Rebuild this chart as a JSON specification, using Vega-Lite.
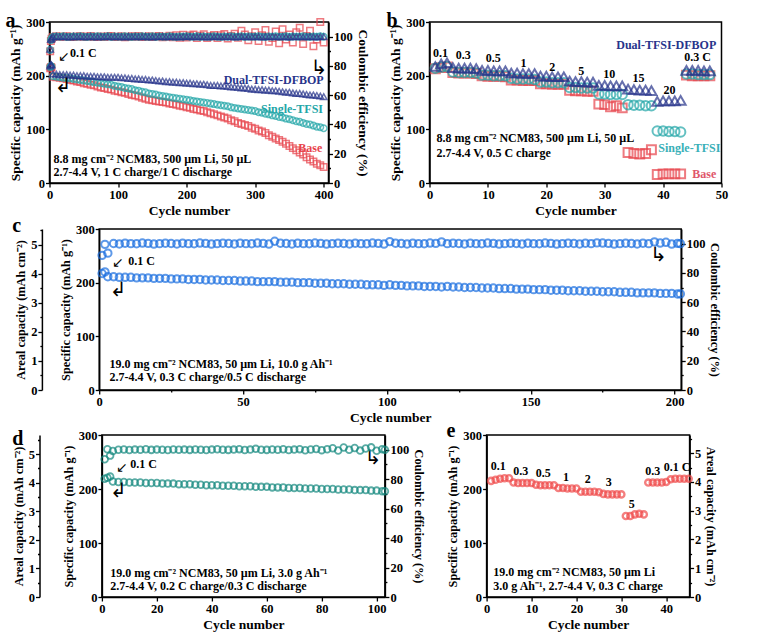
{
  "$schema": "https://vega.github.io/schema/vega-lite/v6.json",
  "background": "white",
  "padding": {"left": 4.5, "top": 10, "right": 5, "bottom": 2},
  "config": {
    "view": {"stroke": "black", "strokeWidth": 1.5},
    "scale": {"nice": false},
    "axis": {
      "labelFont": "Liberation Serif", "labelFontWeight": "bold", "labelFontSize": 12.5, "labelColor": "black",
      "titleFont": "Liberation Serif", "titleFontWeight": "bold", "titleFontSize": 13.5, "titleColor": "black",
      "domainColor": "black", "domainWidth": 1.5, "tickColor": "black", "tickWidth": 1.3,
      "grid": false, "labelPadding": 1, "titlePadding": 3, "labelFlush": false, "labelOverlap": false
    },
    "text": {"font": "Liberation Serif", "fontWeight": "bold", "fontSize": 12, "color": "black"},
    "title": {"font": "Liberation Serif", "fontWeight": "bold", "fontSize": 20, "anchor": "start", "frame": "group", "offset": 0, "color": "black"},
    "point": {"filled": false}
  },
  "datasets": {
    "a": [
      {"s":"B","c":1,"q":214,"e":90},{"s":"B","c":2,"q":216,"e":97},{"s":"B","c":3,"q":215,"e":98.5},
      {"s":"B","c":5,"q":198,"e":99.8},{"s":"B","c":10,"q":197,"e":100.2},{"s":"B","c":15,"q":196,"e":100},{"s":"B","c":20,"q":195,"e":99.9},{"s":"B","c":25,"q":194,"e":100.3},{"s":"B","c":30,"q":192,"e":100},{"s":"B","c":35,"q":191,"e":99.7},{"s":"B","c":40,"q":189,"e":100.1},{"s":"B","c":45,"q":188,"e":100.2},{"s":"B","c":50,"q":186,"e":99.9},
      {"s":"B","c":55,"q":185,"e":100},{"s":"B","c":60,"q":183,"e":100.4},{"s":"B","c":65,"q":182,"e":99.8},{"s":"B","c":70,"q":180,"e":100},{"s":"B","c":75,"q":178,"e":100.1},{"s":"B","c":80,"q":177,"e":99.7},{"s":"B","c":85,"q":175,"e":100.2},{"s":"B","c":90,"q":174,"e":100.5},{"s":"B","c":95,"q":172,"e":99.8},{"s":"B","c":100,"q":171,"e":100},
      {"s":"B","c":105,"q":169,"e":100.3},{"s":"B","c":110,"q":168,"e":99.6},{"s":"B","c":115,"q":166,"e":100},{"s":"B","c":120,"q":164,"e":100.2},{"s":"B","c":125,"q":163,"e":99.9},{"s":"B","c":130,"q":161,"e":100.4},{"s":"B","c":135,"q":159,"e":99.8},{"s":"B","c":140,"q":157,"e":100},{"s":"B","c":145,"q":155,"e":100.3},{"s":"B","c":150,"q":154,"e":99.7},
      {"s":"B","c":155,"q":153,"e":100.1},{"s":"B","c":160,"q":152,"e":100.5},{"s":"B","c":165,"q":151,"e":99.6},{"s":"B","c":170,"q":150,"e":100},{"s":"B","c":175,"q":148,"e":100.6},{"s":"B","c":180,"q":147,"e":99.5},{"s":"B","c":185,"q":146,"e":101},{"s":"B","c":190,"q":144,"e":99.2},{"s":"B","c":195,"q":143,"e":101.3},{"s":"B","c":200,"q":141,"e":99.4},
      {"s":"B","c":205,"q":140,"e":100.8},{"s":"B","c":210,"q":138,"e":101.5},{"s":"B","c":215,"q":137,"e":99},{"s":"B","c":220,"q":135,"e":100.6},{"s":"B","c":225,"q":134,"e":101.6},{"s":"B","c":230,"q":132,"e":99.1},{"s":"B","c":235,"q":130,"e":100.2},{"s":"B","c":240,"q":128,"e":101.2},{"s":"B","c":245,"q":126,"e":99},{"s":"B","c":250,"q":124,"e":100.9},
      {"s":"B","c":255,"q":122,"e":101.8},{"s":"B","c":260,"q":120,"e":98.8},{"s":"B","c":265,"q":117,"e":100.5},{"s":"B","c":270,"q":115,"e":102},{"s":"B","c":275,"q":112,"e":99.3},{"s":"B","c":280,"q":110,"e":104},{"s":"B","c":285,"q":108,"e":101.5},{"s":"B","c":290,"q":106,"e":97.5},{"s":"B","c":295,"q":103,"e":100.2},{"s":"B","c":300,"q":101,"e":103},
      {"s":"B","c":305,"q":98,"e":97},{"s":"B","c":310,"q":96,"e":101},{"s":"B","c":315,"q":93,"e":104.5},{"s":"B","c":320,"q":89,"e":96.5},{"s":"B","c":325,"q":86,"e":99},{"s":"B","c":330,"q":83,"e":103.5},{"s":"B","c":335,"q":80,"e":95.5},{"s":"B","c":340,"q":77,"e":105},{"s":"B","c":345,"q":73,"e":98},{"s":"B","c":350,"q":69,"e":101.5},
      {"s":"B","c":355,"q":65,"e":96},{"s":"B","c":360,"q":61,"e":103},{"s":"B","c":365,"q":57,"e":106},{"s":"B","c":370,"q":53,"e":95},{"s":"B","c":375,"q":48,"e":100.5},{"s":"B","c":380,"q":44,"e":104},{"s":"B","c":385,"q":40,"e":93.5},{"s":"B","c":390,"q":36,"e":98},{"s":"B","c":395,"q":33,"e":110},{"s":"B","c":400,"q":30,"e":96},
      {"s":"S","c":1,"q":216,"e":91},{"s":"S","c":2,"q":218,"e":97.5},{"s":"S","c":3,"q":217,"e":98.8},
      {"s":"S","c":5,"q":199,"e":99.9},{"s":"S","c":10,"q":198,"e":100.1},{"s":"S","c":15,"q":197,"e":100},{"s":"S","c":20,"q":196,"e":100.2},{"s":"S","c":25,"q":196,"e":99.8},{"s":"S","c":30,"q":195,"e":100},{"s":"S","c":35,"q":194,"e":100.1},{"s":"S","c":40,"q":193,"e":99.9},{"s":"S","c":45,"q":192,"e":100.2},{"s":"S","c":50,"q":191,"e":100},
      {"s":"S","c":55,"q":190,"e":99.8},{"s":"S","c":60,"q":189,"e":100.1},{"s":"S","c":65,"q":188,"e":100},{"s":"S","c":70,"q":187,"e":100.3},{"s":"S","c":75,"q":186,"e":99.9},{"s":"S","c":80,"q":185,"e":100},{"s":"S","c":85,"q":184,"e":100.2},{"s":"S","c":90,"q":183,"e":99.8},{"s":"S","c":95,"q":181,"e":100.1},{"s":"S","c":100,"q":180,"e":100},
      {"s":"S","c":105,"q":179,"e":99.9},{"s":"S","c":110,"q":177,"e":100.2},{"s":"S","c":115,"q":176,"e":100},{"s":"S","c":120,"q":175,"e":99.8},{"s":"S","c":125,"q":173,"e":100.1},{"s":"S","c":130,"q":172,"e":100},{"s":"S","c":135,"q":170,"e":100.3},{"s":"S","c":140,"q":169,"e":99.9},{"s":"S","c":145,"q":167,"e":100},{"s":"S","c":150,"q":166,"e":100.2},
      {"s":"S","c":155,"q":165,"e":99.8},{"s":"S","c":160,"q":163,"e":100.1},{"s":"S","c":165,"q":162,"e":100},{"s":"S","c":170,"q":161,"e":99.9},{"s":"S","c":175,"q":160,"e":100.2},{"s":"S","c":180,"q":159,"e":100},{"s":"S","c":185,"q":158,"e":99.8},{"s":"S","c":190,"q":157,"e":100.1},{"s":"S","c":195,"q":156,"e":100},{"s":"S","c":200,"q":155,"e":100.3},
      {"s":"S","c":205,"q":154,"e":99.9},{"s":"S","c":210,"q":153,"e":100},{"s":"S","c":215,"q":152,"e":100.2},{"s":"S","c":220,"q":151,"e":99.8},{"s":"S","c":225,"q":150,"e":100.1},{"s":"S","c":230,"q":149,"e":100},{"s":"S","c":235,"q":148,"e":99.9},{"s":"S","c":240,"q":147,"e":100.2},{"s":"S","c":245,"q":146,"e":100},{"s":"S","c":250,"q":145,"e":99.8},
      {"s":"S","c":255,"q":144,"e":100.1},{"s":"S","c":260,"q":143,"e":100},{"s":"S","c":265,"q":141,"e":100.3},{"s":"S","c":270,"q":140,"e":99.9},{"s":"S","c":275,"q":139,"e":100},{"s":"S","c":280,"q":138,"e":100.2},{"s":"S","c":285,"q":137,"e":99.8},{"s":"S","c":290,"q":136,"e":100.1},{"s":"S","c":295,"q":135,"e":100},{"s":"S","c":300,"q":134,"e":99.9},
      {"s":"S","c":305,"q":132,"e":100.2},{"s":"S","c":310,"q":131,"e":100},{"s":"S","c":315,"q":129,"e":99.8},{"s":"S","c":320,"q":128,"e":100.1},{"s":"S","c":325,"q":126,"e":100},{"s":"S","c":330,"q":125,"e":100.3},{"s":"S","c":335,"q":123,"e":99.9},{"s":"S","c":340,"q":122,"e":100},{"s":"S","c":345,"q":120,"e":100.2},{"s":"S","c":350,"q":119,"e":99.8},
      {"s":"S","c":355,"q":117,"e":100.1},{"s":"S","c":360,"q":115,"e":100},{"s":"S","c":365,"q":114,"e":99.9},{"s":"S","c":370,"q":112,"e":100.2},{"s":"S","c":375,"q":110,"e":100},{"s":"S","c":380,"q":109,"e":99.8},{"s":"S","c":385,"q":107,"e":100.1},{"s":"S","c":390,"q":105,"e":100},{"s":"S","c":395,"q":104,"e":100.2},{"s":"S","c":400,"q":102,"e":99.9},
      {"s":"D","c":1,"q":218,"e":91.5},{"s":"D","c":2,"q":221,"e":98},{"s":"D","c":3,"q":220,"e":99},
      {"s":"D","c":5,"q":203,"e":100},{"s":"D","c":10,"q":203,"e":100.2},{"s":"D","c":15,"q":202,"e":99.9},{"s":"D","c":20,"q":202,"e":100.1},{"s":"D","c":25,"q":202,"e":100},{"s":"D","c":30,"q":201,"e":99.8},{"s":"D","c":35,"q":201,"e":100.2},{"s":"D","c":40,"q":200,"e":100},{"s":"D","c":45,"q":200,"e":100.1},{"s":"D","c":50,"q":200,"e":99.9},
      {"s":"D","c":55,"q":199,"e":100},{"s":"D","c":60,"q":199,"e":100.2},{"s":"D","c":65,"q":199,"e":100},{"s":"D","c":70,"q":198,"e":99.8},{"s":"D","c":75,"q":198,"e":100.1},{"s":"D","c":80,"q":198,"e":100},{"s":"D","c":85,"q":197,"e":100.2},{"s":"D","c":90,"q":197,"e":99.9},{"s":"D","c":95,"q":197,"e":100},{"s":"D","c":100,"q":197,"e":100.1},
      {"s":"D","c":105,"q":196,"e":100},{"s":"D","c":110,"q":196,"e":99.8},{"s":"D","c":115,"q":195,"e":100.2},{"s":"D","c":120,"q":195,"e":100},{"s":"D","c":125,"q":194,"e":100.1},{"s":"D","c":130,"q":194,"e":99.9},{"s":"D","c":135,"q":193,"e":100},{"s":"D","c":140,"q":193,"e":100.2},{"s":"D","c":145,"q":192,"e":100},{"s":"D","c":150,"q":192,"e":99.8},
      {"s":"D","c":155,"q":191,"e":100.1},{"s":"D","c":160,"q":190,"e":100},{"s":"D","c":165,"q":190,"e":100.2},{"s":"D","c":170,"q":189,"e":99.9},{"s":"D","c":175,"q":189,"e":100},{"s":"D","c":180,"q":188,"e":100.1},{"s":"D","c":185,"q":188,"e":100},{"s":"D","c":190,"q":187,"e":99.8},{"s":"D","c":195,"q":187,"e":100.2},{"s":"D","c":200,"q":186,"e":100},
      {"s":"D","c":205,"q":186,"e":100.1},{"s":"D","c":210,"q":185,"e":99.9},{"s":"D","c":215,"q":185,"e":100},{"s":"D","c":220,"q":184,"e":100.2},{"s":"D","c":225,"q":184,"e":100},{"s":"D","c":230,"q":183,"e":99.8},{"s":"D","c":235,"q":182,"e":100.1},{"s":"D","c":240,"q":182,"e":100},{"s":"D","c":245,"q":182,"e":100.2},{"s":"D","c":250,"q":181,"e":99.9},
      {"s":"D","c":255,"q":181,"e":100},{"s":"D","c":260,"q":180,"e":100.1},{"s":"D","c":265,"q":179,"e":100},{"s":"D","c":270,"q":179,"e":99.8},{"s":"D","c":275,"q":178,"e":100.2},{"s":"D","c":280,"q":177,"e":100},{"s":"D","c":285,"q":177,"e":100.1},{"s":"D","c":290,"q":176,"e":99.9},{"s":"D","c":295,"q":175,"e":100},{"s":"D","c":300,"q":175,"e":100.2},
      {"s":"D","c":305,"q":174,"e":100},{"s":"D","c":310,"q":174,"e":99.8},{"s":"D","c":315,"q":173,"e":100.1},{"s":"D","c":320,"q":173,"e":100},{"s":"D","c":325,"q":172,"e":100.2},{"s":"D","c":330,"q":172,"e":99.9},{"s":"D","c":335,"q":171,"e":100},{"s":"D","c":340,"q":170,"e":100.1},{"s":"D","c":345,"q":169,"e":100},{"s":"D","c":350,"q":169,"e":99.8},
      {"s":"D","c":355,"q":168,"e":100.2},{"s":"D","c":360,"q":167,"e":100},{"s":"D","c":365,"q":167,"e":100.1},{"s":"D","c":370,"q":166,"e":99.9},{"s":"D","c":375,"q":165,"e":100},{"s":"D","c":380,"q":164,"e":100.2},{"s":"D","c":385,"q":164,"e":100},{"s":"D","c":390,"q":163,"e":99.8},{"s":"D","c":395,"q":162,"e":100.1},{"s":"D","c":400,"q":161,"e":100}
    ],
    "b": [
      {"s":"B","c":1,"q":213},{"s":"B","c":2,"q":215},{"s":"B","c":3,"q":216},{"s":"B","c":4,"q":206},{"s":"B","c":5,"q":205},{"s":"B","c":6,"q":205},{"s":"B","c":7,"q":205},{"s":"B","c":8,"q":204},
      {"s":"B","c":9,"q":200},{"s":"B","c":10,"q":199},{"s":"B","c":11,"q":199},{"s":"B","c":12,"q":199},{"s":"B","c":13,"q":198},{"s":"B","c":14,"q":192},{"s":"B","c":15,"q":192},{"s":"B","c":16,"q":191},{"s":"B","c":17,"q":191},{"s":"B","c":18,"q":191},
      {"s":"B","c":19,"q":185},{"s":"B","c":20,"q":185},{"s":"B","c":21,"q":184},{"s":"B","c":22,"q":184},{"s":"B","c":23,"q":184},{"s":"B","c":24,"q":173},{"s":"B","c":25,"q":172},{"s":"B","c":26,"q":172},{"s":"B","c":27,"q":171},{"s":"B","c":28,"q":171},
      {"s":"B","c":29,"q":147},{"s":"B","c":30,"q":146},{"s":"B","c":31,"q":142},{"s":"B","c":32,"q":144},{"s":"B","c":33,"q":140},{"s":"B","c":34,"q":57},{"s":"B","c":35,"q":55},{"s":"B","c":36,"q":54},{"s":"B","c":37,"q":55},{"s":"B","c":38,"q":62},
      {"s":"B","c":39,"q":16},{"s":"B","c":40,"q":17},{"s":"B","c":41,"q":17},{"s":"B","c":42,"q":17},{"s":"B","c":43,"q":17},{"s":"B","c":44,"q":201},{"s":"B","c":45,"q":200},{"s":"B","c":46,"q":200},{"s":"B","c":47,"q":200},{"s":"B","c":48,"q":200},
      {"s":"S","c":1,"q":214},{"s":"S","c":2,"q":216},{"s":"S","c":3,"q":217},{"s":"S","c":4,"q":207},{"s":"S","c":5,"q":206},{"s":"S","c":6,"q":206},{"s":"S","c":7,"q":206},{"s":"S","c":8,"q":205},
      {"s":"S","c":9,"q":201},{"s":"S","c":10,"q":201},{"s":"S","c":11,"q":200},{"s":"S","c":12,"q":200},{"s":"S","c":13,"q":200},{"s":"S","c":14,"q":195},{"s":"S","c":15,"q":194},{"s":"S","c":16,"q":194},{"s":"S","c":17,"q":194},{"s":"S","c":18,"q":193},
      {"s":"S","c":19,"q":188},{"s":"S","c":20,"q":188},{"s":"S","c":21,"q":187},{"s":"S","c":22,"q":187},{"s":"S","c":23,"q":187},{"s":"S","c":24,"q":178},{"s":"S","c":25,"q":178},{"s":"S","c":26,"q":177},{"s":"S","c":27,"q":177},{"s":"S","c":28,"q":177},
      {"s":"S","c":29,"q":166},{"s":"S","c":30,"q":166},{"s":"S","c":31,"q":165},{"s":"S","c":32,"q":165},{"s":"S","c":33,"q":165},{"s":"S","c":34,"q":146},{"s":"S","c":35,"q":145},{"s":"S","c":36,"q":145},{"s":"S","c":37,"q":144},{"s":"S","c":38,"q":144},
      {"s":"S","c":39,"q":97},{"s":"S","c":40,"q":97},{"s":"S","c":41,"q":96},{"s":"S","c":42,"q":96},{"s":"S","c":43,"q":95},{"s":"S","c":44,"q":203},{"s":"S","c":45,"q":203},{"s":"S","c":46,"q":202},{"s":"S","c":47,"q":202},{"s":"S","c":48,"q":202},
      {"s":"D","c":1,"q":217},{"s":"D","c":2,"q":222},{"s":"D","c":3,"q":224},{"s":"D","c":4,"q":215},{"s":"D","c":5,"q":214},{"s":"D","c":6,"q":214},{"s":"D","c":7,"q":214},{"s":"D","c":8,"q":213},
      {"s":"D","c":9,"q":210},{"s":"D","c":10,"q":210},{"s":"D","c":11,"q":209},{"s":"D","c":12,"q":209},{"s":"D","c":13,"q":209},{"s":"D","c":14,"q":205},{"s":"D","c":15,"q":205},{"s":"D","c":16,"q":204},{"s":"D","c":17,"q":204},{"s":"D","c":18,"q":204},
      {"s":"D","c":19,"q":199},{"s":"D","c":20,"q":199},{"s":"D","c":21,"q":198},{"s":"D","c":22,"q":198},{"s":"D","c":23,"q":198},{"s":"D","c":24,"q":190},{"s":"D","c":25,"q":189},{"s":"D","c":26,"q":189},{"s":"D","c":27,"q":188},{"s":"D","c":28,"q":188},
      {"s":"D","c":29,"q":182},{"s":"D","c":30,"q":182},{"s":"D","c":31,"q":181},{"s":"D","c":32,"q":181},{"s":"D","c":33,"q":181},{"s":"D","c":34,"q":175},{"s":"D","c":35,"q":174},{"s":"D","c":36,"q":173},{"s":"D","c":37,"q":173},{"s":"D","c":38,"q":172},
      {"s":"D","c":39,"q":152},{"s":"D","c":40,"q":153},{"s":"D","c":41,"q":153},{"s":"D","c":42,"q":153},{"s":"D","c":43,"q":154},{"s":"D","c":44,"q":210},{"s":"D","c":45,"q":210},{"s":"D","c":46,"q":210},{"s":"D","c":47,"q":209},{"s":"D","c":48,"q":209}
    ],
    "c": [
      {"c":1,"q":217,"e":92},{"c":2,"q":220,"e":99.5},{"c":3,"q":211,"e":93.5},
      {"c":5,"q":211,"e":100.1},{"c":7,"q":210,"e":99.8},{"c":9,"q":210,"e":100.3},{"c":11,"q":210,"e":100},{"c":13,"q":209,"e":99.9},{"c":15,"q":209,"e":100.4},{"c":17,"q":209,"e":100.2},{"c":19,"q":208,"e":99.7},{"c":21,"q":208,"e":100},{"c":23,"q":208,"e":100.3},
      {"c":25,"q":207,"e":100.1},{"c":27,"q":207,"e":99.8},{"c":29,"q":207,"e":100.3},{"c":31,"q":206,"e":100},{"c":33,"q":206,"e":99.9},{"c":35,"q":206,"e":100.4},{"c":37,"q":205,"e":100.2},{"c":39,"q":205,"e":99.7},{"c":41,"q":205,"e":100},{"c":43,"q":204,"e":100.3},
      {"c":45,"q":204,"e":100.1},{"c":47,"q":204,"e":99.8},{"c":49,"q":203,"e":100.3},{"c":51,"q":203,"e":100},{"c":53,"q":203,"e":99.9},{"c":55,"q":202,"e":100.4},{"c":57,"q":202,"e":100.2},{"c":59,"q":202,"e":99.7},{"c":61,"q":202,"e":101.6},{"c":63,"q":201,"e":100.3},
      {"c":65,"q":201,"e":100.1},{"c":67,"q":201,"e":99.8},{"c":69,"q":200,"e":100.3},{"c":71,"q":200,"e":100},{"c":73,"q":200,"e":99.9},{"c":75,"q":199,"e":100.4},{"c":77,"q":199,"e":100.2},{"c":79,"q":199,"e":99.7},{"c":81,"q":198,"e":100},{"c":83,"q":198,"e":100.3},
      {"c":85,"q":198,"e":100.1},{"c":87,"q":197,"e":99.8},{"c":89,"q":197,"e":100.3},{"c":91,"q":197,"e":100},{"c":93,"q":196,"e":99.9},{"c":95,"q":196,"e":100.4},{"c":97,"q":196,"e":100.2},{"c":99,"q":195,"e":99.7},{"c":101,"q":196,"e":101.4},{"c":103,"q":195,"e":100.3},
      {"c":105,"q":195,"e":100.1},{"c":107,"q":194,"e":99.8},{"c":109,"q":194,"e":100.3},{"c":111,"q":194,"e":100},{"c":113,"q":193,"e":99.9},{"c":115,"q":193,"e":100.4},{"c":117,"q":193,"e":100.2},{"c":119,"q":192,"e":101.2},{"c":121,"q":193,"e":100},{"c":123,"q":192,"e":100.3},
      {"c":125,"q":192,"e":100.1},{"c":127,"q":191,"e":99.8},{"c":129,"q":191,"e":100.3},{"c":131,"q":191,"e":100},{"c":133,"q":190,"e":99.9},{"c":135,"q":190,"e":100.4},{"c":137,"q":190,"e":100.2},{"c":139,"q":189,"e":99.7},{"c":141,"q":189,"e":100},{"c":143,"q":189,"e":100.3},
      {"c":145,"q":188,"e":100.1},{"c":147,"q":188,"e":99.8},{"c":149,"q":188,"e":100.3},{"c":151,"q":187,"e":100},{"c":153,"q":187,"e":99.9},{"c":155,"q":187,"e":100.4},{"c":157,"q":186,"e":100.2},{"c":159,"q":186,"e":99.7},{"c":161,"q":186,"e":100},{"c":163,"q":185,"e":100.3},
      {"c":165,"q":185,"e":100.1},{"c":167,"q":185,"e":99.8},{"c":169,"q":184,"e":100.3},{"c":171,"q":184,"e":100},{"c":173,"q":184,"e":100.5},{"c":175,"q":183,"e":100.4},{"c":177,"q":183,"e":100.2},{"c":179,"q":183,"e":99.7},{"c":181,"q":182,"e":100},{"c":183,"q":182,"e":100.3},
      {"c":185,"q":182,"e":100.1},{"c":187,"q":181,"e":99.8},{"c":189,"q":181,"e":100.3},{"c":191,"q":181,"e":100},{"c":193,"q":181,"e":101.2},{"c":195,"q":180,"e":100.4},{"c":197,"q":180,"e":100.9},{"c":199,"q":180,"e":99.7},{"c":201,"q":179,"e":100.2},{"c":202,"q":179,"e":100}
    ],
    "d": [
      {"c":1,"q":219,"e":93.5},{"c":2,"q":221,"e":100.3},{"c":3,"q":223,"e":96},{"c":4,"q":214,"e":99.2},{"c":6,"q":213,"e":100},{"c":8,"q":213,"e":100.2},{"c":10,"q":212,"e":99.8},{"c":12,"q":212,"e":100.1},{"c":14,"q":212,"e":100},{"c":16,"q":211,"e":100.3},
      {"c":18,"q":211,"e":99.9},{"c":20,"q":211,"e":100.1},{"c":22,"q":210,"e":100},{"c":24,"q":210,"e":99.8},{"c":26,"q":210,"e":100.2},{"c":28,"q":209,"e":100},{"c":30,"q":209,"e":100.1},{"c":32,"q":209,"e":99.9},{"c":34,"q":208,"e":100.2},{"c":36,"q":208,"e":100},
      {"c":38,"q":207,"e":99.8},{"c":40,"q":207,"e":100.1},{"c":42,"q":207,"e":100.3},{"c":44,"q":206,"e":100},{"c":46,"q":206,"e":99.9},{"c":48,"q":206,"e":100.1},{"c":50,"q":205,"e":100.4},{"c":52,"q":205,"e":99.8},{"c":54,"q":205,"e":100.1},{"c":56,"q":204,"e":100.6},
      {"c":58,"q":204,"e":100},{"c":60,"q":204,"e":99.9},{"c":62,"q":203,"e":100.2},{"c":64,"q":203,"e":100},{"c":66,"q":203,"e":100.3},{"c":68,"q":202,"e":99.8},{"c":70,"q":202,"e":100.1},{"c":72,"q":202,"e":100.4},{"c":74,"q":201,"e":99.6},{"c":76,"q":201,"e":100.2},
      {"c":78,"q":201,"e":100.5},{"c":80,"q":200,"e":99.7},{"c":82,"q":200,"e":100.3},{"c":84,"q":200,"e":101},{"c":86,"q":199,"e":99.5},{"c":88,"q":199,"e":101.5},{"c":90,"q":199,"e":100},{"c":92,"q":198,"e":101.2},{"c":94,"q":198,"e":99.4},{"c":96,"q":198,"e":100.8},
      {"c":98,"q":197,"e":101.6},{"c":100,"q":197,"e":99.3},{"c":102,"q":196,"e":100.4},{"c":103,"q":196,"e":100}
    ],
    "e": [
      {"c":1,"q":215},{"c":2,"q":217},{"c":3,"q":219},{"c":4,"q":220},{"c":5,"q":220},{"c":6,"q":212},{"c":7,"q":211},{"c":8,"q":211},{"c":9,"q":211},{"c":10,"q":211},
      {"c":11,"q":208},{"c":12,"q":207},{"c":13,"q":207},{"c":14,"q":207},{"c":15,"q":207},{"c":16,"q":202},{"c":17,"q":202},{"c":18,"q":201},{"c":19,"q":201},{"c":20,"q":201},
      {"c":21,"q":195},{"c":22,"q":195},{"c":23,"q":195},{"c":24,"q":195},{"c":25,"q":194},{"c":26,"q":191},{"c":27,"q":190},{"c":28,"q":190},{"c":29,"q":190},{"c":30,"q":190},
      {"c":31,"q":150},{"c":32,"q":150},{"c":33,"q":153},{"c":34,"q":154},{"c":35,"q":153},{"c":36,"q":212},{"c":37,"q":212},{"c":38,"q":212},{"c":39,"q":212},{"c":40,"q":213},
      {"c":41,"q":218},{"c":42,"q":219},{"c":43,"q":219},{"c":44,"q":219},{"c":45,"q":219}
    ]
  },
  "columns": 1,
  "spacing": -2,
  "concat": [
    {
      "hconcat": [
        {
          "width": 279, "height": 161,
          "title": {"text": "a", "dx": -44, "dy": 19},
          "layer": [
            {
              "layer": [
                {
                  "data": {"name": "a"},
                  "mark": {"type": "point", "size": 42, "strokeWidth": 1.5},
                  "encoding": {
                    "x": {"field": "c", "type": "quantitative", "scale": {"domain": [0, 407], "nice": false},
                      "axis": {"title": "Cycle number", "values": [0,50,100,150,200,250,300,350,400], "labelExpr": "datum.value % 100 == 0 ? datum.label : ''", "tickSize": {"condition": {"test": "datum.value % 100 == 0", "value": 4}, "value": 2}}},
                    "y": {"field": "q", "type": "quantitative", "scale": {"domain": [0, 300], "nice": false},
                      "axis": {"orient": "left", "title": "Specific capacity (mAh g⁻¹)", "values": [0,50,100,150,200,250,300], "labelExpr": "datum.value % 100 == 0 ? datum.label : ''", "tickSize": {"condition": {"test": "datum.value % 100 == 0", "value": 4}, "value": 2}}},
                    "color": {"field": "s", "type": "nominal", "scale": {"domain": ["B","S","D"], "range": ["#e8434b","#22a6a8","#27348b"]}, "legend": null},
                    "shape": {"field": "s", "type": "nominal", "scale": {"domain": ["B","S","D"], "range": ["square","circle","triangle-up"]}, "legend": null}
                  }
                },
                {"data": {"values": [{}]}, "mark": {"type": "text", "text": "↙", "font": "DejaVu Sans", "fontWeight": "normal", "fontSize": 14}, "encoding": {"x": {"datum": 21}, "y": {"datum": 235}}},
                {"data": {"values": [{}]}, "mark": {"type": "text", "text": "0.1 C", "align": "left"}, "encoding": {"x": {"datum": 30}, "y": {"datum": 243}}},
                {"data": {"values": [{}]}, "mark": {"type": "text", "text": "↲", "font": "DejaVu Sans", "fontWeight": "normal", "fontSize": 20}, "encoding": {"x": {"datum": 20}, "y": {"datum": 180}}},
                {"data": {"values": [{}]}, "mark": {"type": "text", "text": "↳", "font": "DejaVu Sans", "fontWeight": "normal", "fontSize": 20}, "encoding": {"x": {"datum": 393}, "y": {"datum": 215}}},
                {"data": {"values": [{}]}, "mark": {"type": "text", "text": "Dual-TFSI-DFBOP", "align": "right", "color": "#27348b"}, "encoding": {"x": {"datum": 400}, "y": {"datum": 192}}},
                {"data": {"values": [{}]}, "mark": {"type": "text", "text": "Single-TFSI", "align": "right", "color": "#22a6a8"}, "encoding": {"x": {"datum": 399}, "y": {"datum": 137}}},
                {"data": {"values": [{}]}, "mark": {"type": "text", "text": "Base", "align": "right", "color": "#e8434b"}, "encoding": {"x": {"datum": 398}, "y": {"datum": 65}}},
                {"data": {"values": [{}]}, "mark": {"type": "text", "text": "8.8 mg cm⁻² NCM83, 500 µm Li, 50 µL", "align": "left"}, "encoding": {"x": {"datum": 6}, "y": {"datum": 45}}},
                {"data": {"values": [{}]}, "mark": {"type": "text", "text": "2.7-4.4 V, 1 C charge/1 C discharge", "align": "left"}, "encoding": {"x": {"datum": 6}, "y": {"datum": 21}}}
              ]
            },
            {
              "data": {"name": "a"},
              "mark": {"type": "point", "size": 42, "strokeWidth": 1.5},
              "encoding": {
                "x": {"field": "c", "type": "quantitative", "scale": {"domain": [0, 407], "nice": false}},
                "y": {"field": "e", "type": "quantitative", "scale": {"domain": [0, 110], "nice": false},
                  "axis": {"orient": "right", "title": "Coulombic efficiency (%)", "values": [0,10,20,30,40,50,60,70,80,90,100], "labelExpr": "datum.value % 20 == 0 ? datum.label : ''", "tickSize": {"condition": {"test": "datum.value % 20 == 0", "value": 4}, "value": 2}}},
                "color": {"field": "s", "type": "nominal", "legend": null},
                "shape": {"field": "s", "type": "nominal", "legend": null}
              }
            }
          ],
          "resolve": {"scale": {"y": "independent"}}
        },
        {
          "width": 292, "height": 161,
          "title": {"text": "b", "dx": -43, "dy": 19},
          "layer": [
            {
              "data": {"name": "b"},
              "mark": {"type": "point", "strokeWidth": 2},
              "encoding": {
                "x": {"field": "c", "type": "quantitative", "scale": {"domain": [0, 50], "nice": false},
                  "axis": {"title": "Cycle number", "values": [0,5,10,15,20,25,30,35,40,45,50], "labelExpr": "datum.value % 10 == 0 ? datum.label : ''", "tickSize": {"condition": {"test": "datum.value % 10 == 0", "value": 4}, "value": 2}}},
                "y": {"field": "q", "type": "quantitative", "scale": {"domain": [0, 300], "nice": false},
                  "axis": {"title": "Specific capacity (mAh g⁻¹)", "values": [0,50,100,150,200,250,300], "labelExpr": "datum.value % 100 == 0 ? datum.label : ''", "tickSize": {"condition": {"test": "datum.value % 100 == 0", "value": 4}, "value": 2}}},
                "color": {"field": "s", "type": "nominal", "scale": {"domain": ["B","S","D"], "range": ["#e8434b","#2fb0b0","#27348b"]}, "legend": null},
                "shape": {"field": "s", "type": "nominal", "scale": {"domain": ["B","S","D"], "range": ["square","circle","triangle-up"]}, "legend": null},
                "size": {"field": "s", "type": "nominal", "scale": {"domain": ["B","S","D"], "range": [80, 100, 170]}, "legend": null}
              }
            },
            {"data": {"values": [{}]}, "mark": {"type": "text", "text": "0.1"}, "encoding": {"x": {"datum": 1.9}, "y": {"datum": 242}}},
            {"data": {"values": [{}]}, "mark": {"type": "text", "text": "0.3"}, "encoding": {"x": {"datum": 5.8}, "y": {"datum": 238}}},
            {"data": {"values": [{}]}, "mark": {"type": "text", "text": "0.5"}, "encoding": {"x": {"datum": 10.9}, "y": {"datum": 232}}},
            {"data": {"values": [{}]}, "mark": {"type": "text", "text": "1"}, "encoding": {"x": {"datum": 16.1}, "y": {"datum": 224}}},
            {"data": {"values": [{}]}, "mark": {"type": "text", "text": "2"}, "encoding": {"x": {"datum": 21}, "y": {"datum": 217}}},
            {"data": {"values": [{}]}, "mark": {"type": "text", "text": "5"}, "encoding": {"x": {"datum": 26}, "y": {"datum": 208}}},
            {"data": {"values": [{}]}, "mark": {"type": "text", "text": "10"}, "encoding": {"x": {"datum": 30.8}, "y": {"datum": 204}}},
            {"data": {"values": [{}]}, "mark": {"type": "text", "text": "15"}, "encoding": {"x": {"datum": 35.8}, "y": {"datum": 195}}},
            {"data": {"values": [{}]}, "mark": {"type": "text", "text": "20"}, "encoding": {"x": {"datum": 41.1}, "y": {"datum": 173}}},
            {"data": {"values": [{}]}, "mark": {"type": "text", "text": "0.3 C"}, "encoding": {"x": {"datum": 45.9}, "y": {"datum": 235}}},
            {"data": {"values": [{}]}, "mark": {"type": "text", "text": "Dual-TFSI-DFBOP", "align": "right", "color": "#27348b"}, "encoding": {"x": {"datum": 49.1}, "y": {"datum": 257}}},
            {"data": {"values": [{}]}, "mark": {"type": "text", "text": "Single-TFSI", "align": "right", "color": "#3ab0b8"}, "encoding": {"x": {"datum": 49.8}, "y": {"datum": 66}}},
            {"data": {"values": [{}]}, "mark": {"type": "text", "text": "Base", "align": "right", "color": "#e0566a"}, "encoding": {"x": {"datum": 49.1}, "y": {"datum": 17}}},
            {"data": {"values": [{}]}, "mark": {"type": "text", "text": "8.8 mg cm⁻² NCM83, 500 µm Li, 50 µL", "align": "left"}, "encoding": {"x": {"datum": 1.2}, "y": {"datum": 84}}},
            {"data": {"values": [{}]}, "mark": {"type": "text", "text": "2.7-4.4 V, 0.5 C charge", "align": "left"}, "encoding": {"x": {"datum": 1.2}, "y": {"datum": 56}}}
          ]
        }
      ],
      "spacing": 101,
      "bounds": "flush"
    },
    {
      "spacing": -5,
      "vconcat": [
        {
          "hconcat": [
            {
              "width": 1, "height": 161,
              "view": {"stroke": null},
              "title": {"text": "c", "dx": -37.3, "dy": 16},
              "data": {"values": [{}]},
              "mark": {"type": "point", "opacity": 0},
              "encoding": {
                "x": {"datum": 0, "type": "quantitative", "axis": null},
                "y": {"datum": 0, "type": "quantitative", "scale": {"domain": [0, 5.55], "nice": false},
                  "axis": {"orient": "left", "offset": 7.6, "title": "Areal capacity (mAh cm⁻²)", "titleFontSize": 12.3, "values": [0,0.5,1,1.5,2,2.5,3,3.5,4,4.5,5,5.5], "labelExpr": "datum.value % 1 == 0 ? format(datum.value, 'd') : ''", "tickSize": {"condition": {"test": "datum.value % 1 == 0", "value": 4}, "value": 2}}}
              }
            },
            {
              "width": 582, "height": 161,
              "layer": [
                {
                  "layer": [
                    {
                      "data": {"name": "c"},
                      "mark": {"type": "point", "size": 55, "strokeWidth": 2, "color": "#1a6ee0"},
                      "encoding": {
                        "x": {"field": "c", "type": "quantitative", "scale": {"domain": [0, 202.3], "nice": false},
                          "axis": {"title": "Cycle number", "values": [0,25,50,75,100,125,150,175,200], "labelExpr": "datum.value % 50 == 0 ? datum.label : ''", "tickSize": {"condition": {"test": "datum.value % 50 == 0", "value": 4}, "value": 2}}},
                        "y": {"field": "q", "type": "quantitative", "scale": {"domain": [0, 300], "nice": false},
                          "axis": {"orient": "left", "title": "Specific capacity (mAh g⁻¹)", "titleFontSize": 12.3, "values": [0,50,100,150,200,250,300], "labelExpr": "datum.value % 100 == 0 ? datum.label : ''", "tickSize": {"condition": {"test": "datum.value % 100 == 0", "value": 4}, "value": 2}}}
                      }
                    },
                    {"data": {"values": [{}]}, "mark": {"type": "text", "text": "↙", "font": "DejaVu Sans", "fontWeight": "normal", "fontSize": 14}, "encoding": {"x": {"datum": 6.5}, "y": {"datum": 237}}},
                    {"data": {"values": [{}]}, "mark": {"type": "text", "text": "0.1 C", "align": "left"}, "encoding": {"x": {"datum": 10.1}, "y": {"datum": 241}}},
                    {"data": {"values": [{}]}, "mark": {"type": "text", "text": "↲", "font": "DejaVu Sans", "fontWeight": "normal", "fontSize": 20}, "encoding": {"x": {"datum": 6.6}, "y": {"datum": 186}}},
                    {"data": {"values": [{}]}, "mark": {"type": "text", "text": "↳", "font": "DejaVu Sans", "fontWeight": "normal", "fontSize": 20}, "encoding": {"x": {"datum": 194.4}, "y": {"datum": 252}}},
                    {"data": {"values": [{}]}, "mark": {"type": "text", "text": "19.0 mg cm⁻² NCM83, 50 µm Li, 10.0 g Ah⁻¹", "align": "left"}, "encoding": {"x": {"datum": 3.6}, "y": {"datum": 49}}},
                    {"data": {"values": [{}]}, "mark": {"type": "text", "text": "2.7-4.4 V, 0.3 C charge/0.5 C discharge", "align": "left"}, "encoding": {"x": {"datum": 3.6}, "y": {"datum": 24}}}
                  ]
                },
                {
                  "data": {"name": "c"},
                  "mark": {"type": "point", "size": 55, "strokeWidth": 2, "color": "#1a6ee0"},
                  "encoding": {
                    "x": {"field": "c", "type": "quantitative", "scale": {"domain": [0, 202.3], "nice": false}},
                    "y": {"field": "e", "type": "quantitative", "scale": {"domain": [0, 110], "nice": false},
                      "axis": {"orient": "right", "title": "Coulombic efficiency (%)", "titleFontSize": 12.3, "values": [0,10,20,30,40,50,60,70,80,90,100], "labelExpr": "datum.value % 20 == 0 ? datum.label : ''", "tickSize": {"condition": {"test": "datum.value % 20 == 0", "value": 4}, "value": 2}}}
                  }
                }
              ],
              "resolve": {"scale": {"y": "independent"}}
            }
          ],
          "spacing": 48.7,
          "bounds": "flush"
        },
        {
          "hconcat": [
            {
              "width": 1, "height": 162,
              "view": {"stroke": null},
              "title": {"text": "d", "dx": -37.3, "dy": 19},
              "data": {"values": [{}]},
              "mark": {"type": "point", "opacity": 0},
              "encoding": {
                "x": {"datum": 0, "type": "quantitative", "axis": null},
                "y": {"datum": 0, "type": "quantitative", "scale": {"domain": [0, 5.67], "nice": false},
                  "axis": {"orient": "left", "offset": 10, "title": "Areal capacity (mAh cm⁻²)", "titleFontSize": 12.3, "values": [0,0.5,1,1.5,2,2.5,3,3.5,4,4.5,5,5.5], "labelExpr": "datum.value % 1 == 0 ? format(datum.value, 'd') : ''", "tickSize": {"condition": {"test": "datum.value % 1 == 0", "value": 4}, "value": 2}}}
              }
            },
            {
              "hconcat": [
                {
                  "width": 283, "height": 162,
                  "layer": [
                    {
                      "layer": [
                        {
                          "data": {"name": "d"},
                          "mark": {"type": "point", "size": 45, "strokeWidth": 1.8, "color": "#15897f"},
                          "encoding": {
                            "x": {"field": "c", "type": "quantitative", "scale": {"domain": [0, 103], "nice": false},
                              "axis": {"title": "Cycle number", "values": [0,10,20,30,40,50,60,70,80,90,100], "labelExpr": "datum.value % 20 == 0 ? datum.label : ''", "tickSize": {"condition": {"test": "datum.value % 20 == 0", "value": 4}, "value": 2}}},
                            "y": {"field": "q", "type": "quantitative", "scale": {"domain": [0, 300], "nice": false},
                              "axis": {"orient": "left", "title": "Specific capacity (mAh g⁻¹)", "titleFontSize": 12.3, "values": [0,50,100,150,200,250,300], "labelExpr": "datum.value % 100 == 0 ? datum.label : ''", "tickSize": {"condition": {"test": "datum.value % 100 == 0", "value": 4}, "value": 2}}}
                          }
                        },
                        {"data": {"values": [{}]}, "mark": {"type": "text", "text": "↙", "font": "DejaVu Sans", "fontWeight": "normal", "fontSize": 14}, "encoding": {"x": {"datum": 7.3}, "y": {"datum": 239}}},
                        {"data": {"values": [{}]}, "mark": {"type": "text", "text": "0.1 C", "align": "left"}, "encoding": {"x": {"datum": 10.3}, "y": {"datum": 246}}},
                        {"data": {"values": [{}]}, "mark": {"type": "text", "text": "↲", "font": "DejaVu Sans", "fontWeight": "normal", "fontSize": 20}, "encoding": {"x": {"datum": 6}, "y": {"datum": 196}}},
                        {"data": {"values": [{}]}, "mark": {"type": "text", "text": "↳", "font": "DejaVu Sans", "fontWeight": "normal", "fontSize": 20}, "encoding": {"x": {"datum": 98.6}, "y": {"datum": 257}}},
                        {"data": {"values": [{}]}, "mark": {"type": "text", "text": "19.0 mg cm⁻² NCM83, 50 µm Li, 3.0 g Ah⁻¹", "align": "left"}, "encoding": {"x": {"datum": 3}, "y": {"datum": 45}}},
                        {"data": {"values": [{}]}, "mark": {"type": "text", "text": "2.7-4.4 V, 0.2 C charge/0.3 C discharge", "align": "left"}, "encoding": {"x": {"datum": 3}, "y": {"datum": 21}}}
                      ]
                    },
                    {
                      "data": {"name": "d"},
                      "mark": {"type": "point", "size": 45, "strokeWidth": 1.8, "color": "#15897f"},
                      "encoding": {
                        "x": {"field": "c", "type": "quantitative", "scale": {"domain": [0, 103], "nice": false}},
                        "y": {"field": "e", "type": "quantitative", "scale": {"domain": [0, 110], "nice": false},
                          "axis": {"orient": "right", "title": "Coulombic efficiency (%)", "titleFontSize": 12.3, "values": [0,10,20,30,40,50,60,70,80,90,100], "labelExpr": "datum.value % 20 == 0 ? datum.label : ''", "tickSize": {"condition": {"test": "datum.value % 20 == 0", "value": 4}, "value": 2}}}
                      }
                    }
                  ],
                  "resolve": {"scale": {"y": "independent"}}
                },
                {
                  "width": 203, "height": 162,
                  "title": {"text": "e", "dx": -40, "dy": 16},
                  "layer": [
                    {
                      "layer": [
                        {
                          "data": {"name": "e"},
                          "mark": {"type": "point", "size": 38, "strokeWidth": 2.4, "color": "#f04a4a"},
                          "encoding": {
                            "x": {"field": "c", "type": "quantitative", "scale": {"domain": [0, 45.2], "nice": false},
                              "axis": {"title": "Cycle number", "values": [0,5,10,15,20,25,30,35,40,45], "labelExpr": "datum.value % 10 == 0 ? datum.label : ''", "tickSize": {"condition": {"test": "datum.value % 10 == 0", "value": 4}, "value": 2}}},
                            "y": {"field": "q", "type": "quantitative", "scale": {"domain": [0, 300], "nice": false},
                              "axis": {"orient": "left", "title": "Specific capacity (mAh g⁻¹)", "titleFontSize": 12.3, "values": [0,50,100,150,200,250,300], "labelExpr": "datum.value % 100 == 0 ? datum.label : ''", "tickSize": {"condition": {"test": "datum.value % 100 == 0", "value": 4}, "value": 2}}}
                          }
                        },
                        {"data": {"values": [{}]}, "mark": {"type": "text", "text": "0.1"}, "encoding": {"x": {"datum": 2.6}, "y": {"datum": 243}}},
                        {"data": {"values": [{}]}, "mark": {"type": "text", "text": "0.3"}, "encoding": {"x": {"datum": 7.6}, "y": {"datum": 234}}},
                        {"data": {"values": [{}]}, "mark": {"type": "text", "text": "0.5"}, "encoding": {"x": {"datum": 12.6}, "y": {"datum": 230}}},
                        {"data": {"values": [{}]}, "mark": {"type": "text", "text": "1"}, "encoding": {"x": {"datum": 17.7}, "y": {"datum": 223}}},
                        {"data": {"values": [{}]}, "mark": {"type": "text", "text": "2"}, "encoding": {"x": {"datum": 22.5}, "y": {"datum": 218}}},
                        {"data": {"values": [{}]}, "mark": {"type": "text", "text": "3"}, "encoding": {"x": {"datum": 27.2}, "y": {"datum": 213}}},
                        {"data": {"values": [{}]}, "mark": {"type": "text", "text": "5"}, "encoding": {"x": {"datum": 32.3}, "y": {"datum": 172}}},
                        {"data": {"values": [{}]}, "mark": {"type": "text", "text": "0.3"}, "encoding": {"x": {"datum": 37}, "y": {"datum": 234}}},
                        {"data": {"values": [{}]}, "mark": {"type": "text", "text": "0.1 C"}, "encoding": {"x": {"datum": 42.4}, "y": {"datum": 240}}},
                        {"data": {"values": [{}]}, "mark": {"type": "text", "text": "19.0 mg cm⁻² NCM83, 50 µm Li", "align": "left"}, "encoding": {"x": {"datum": 1.5}, "y": {"datum": 46}}},
                        {"data": {"values": [{}]}, "mark": {"type": "text", "text": "3.0 g Ah⁻¹, 2.7-4.4 V, 0.3 C charge", "align": "left"}, "encoding": {"x": {"datum": 1.5}, "y": {"datum": 20}}}
                      ]
                    },
                    {
                      "data": {"values": [{}]},
                      "mark": {"type": "point", "opacity": 0},
                      "encoding": {
                        "x": {"datum": 0},
                        "y": {"datum": 0, "type": "quantitative", "scale": {"domain": [0, 5.63], "nice": false},
                          "axis": {"orient": "right", "title": "Areal capacity (mAh cm⁻²)", "titleFontSize": 12.3, "values": [0,0.5,1,1.5,2,2.5,3,3.5,4,4.5,5,5.5], "labelExpr": "datum.value % 1 == 0 ? format(datum.value, 'd') : ''", "tickSize": {"condition": {"test": "datum.value % 1 == 0", "value": 4}, "value": 2}}}
                      }
                    }
                  ],
                  "resolve": {"scale": {"y": "independent"}}
                }
              ],
              "spacing": 101.7,
              "bounds": "flush"
            }
          ],
          "spacing": 51.4,
          "bounds": "flush"
        }
      ]
    }
  ]
}
